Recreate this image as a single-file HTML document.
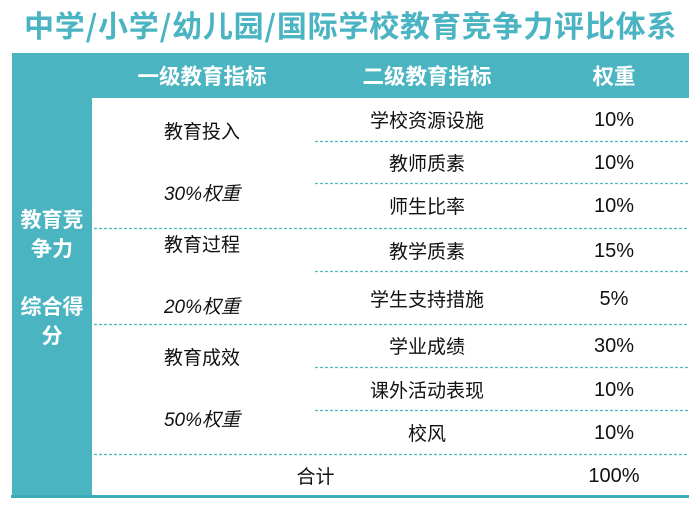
<!DOCTYPE html>
<html>
<head>
<meta charset="utf-8">
<style>
  html,body{margin:0;padding:0;}
  body{width:700px;height:510px;background:#fff;position:relative;overflow:hidden;
       font-family:"Liberation Sans","Noto Sans CJK SC",sans-serif;color:#111;}
  .abs{position:absolute;}
  .title{left:24px;top:9px;font-size:30px;line-height:30px;font-weight:bold;color:#4ab4c2;
         white-space:nowrap;letter-spacing:0.8px;font-family:"Noto Sans CJK SC","Liberation Sans",sans-serif;}
  .teal{background:#4ab4c1;}
  .cell{position:absolute;display:flex;align-items:center;justify-content:center;text-align:center;white-space:nowrap;}
  .hdr{color:#fff;font-weight:bold;font-size:21.5px;}
  .b{font-size:19px;}
  .n{font-size:20px;}
  .grp{font-size:19px;line-height:31px;}
  .grp i{font-style:italic;}
  .left{color:#fff;font-weight:bold;font-size:21px;line-height:29px;}
</style>
</head>
<body>
  <div class="abs title">中学/小学/幼儿园/国际学校教育竞争力评比体系</div>

  <div class="abs teal" style="left:12px;top:53px;width:677px;height:45px;"></div>
  <div class="abs teal" style="left:12px;top:98px;width:80px;height:398px;"></div>
  <div class="abs" style="left:11px;top:495px;width:678px;height:3px;background:#3badbb;"></div>

  <div class="cell hdr" style="left:92px;top:53px;width:220px;height:45px;">一级教育指标</div>
  <div class="cell hdr" style="left:315px;top:53px;width:224px;height:45px;">二级教育指标</div>
  <div class="cell hdr" style="left:539px;top:53px;width:150px;height:45px;">权重</div>

  <div class="cell left" style="left:12px;top:100px;width:80px;height:357px;"><div>教育竞<br>争力<br><br>综合得<br>分</div></div>

  <div class="cell grp" style="left:92px;top:98px;width:220px;height:130px;"><div>教育投入<br>&nbsp;<br><i>30%权重</i></div></div>
  <div class="cell grp" style="left:92px;top:228px;width:220px;height:96px;"><div>教育过程<br>&nbsp;<br><i>20%权重</i></div></div>
  <div class="cell grp" style="left:92px;top:324px;width:220px;height:130px;"><div>教育成效<br>&nbsp;<br><i>50%权重</i></div></div>

  <div class="cell b" style="left:315px;top:98px;width:224px;height:43px;">学校资源设施</div>
  <div class="cell n" style="left:539px;top:99px;width:150px;height:43px;">10%</div>
  <div class="cell b" style="left:315px;top:141px;width:224px;height:42px;">教师质素</div>
  <div class="cell n" style="left:539px;top:142px;width:150px;height:42px;">10%</div>
  <div class="cell b" style="left:315px;top:183px;width:224px;height:45px;">师生比率</div>
  <div class="cell n" style="left:539px;top:184px;width:150px;height:45px;">10%</div>
  <div class="cell b" style="left:315px;top:228px;width:224px;height:44px;">教学质素</div>
  <div class="cell n" style="left:539px;top:229px;width:150px;height:44px;">15%</div>
  <div class="cell b" style="left:315px;top:272px;width:224px;height:52px;">学生支持措施</div>
  <div class="cell n" style="left:539px;top:273px;width:150px;height:52px;">5%</div>
  <div class="cell b" style="left:315px;top:324px;width:224px;height:43px;">学业成绩</div>
  <div class="cell n" style="left:539px;top:325px;width:150px;height:43px;">30%</div>
  <div class="cell b" style="left:315px;top:367px;width:224px;height:44px;">课外活动表现</div>
  <div class="cell n" style="left:539px;top:368px;width:150px;height:44px;">10%</div>
  <div class="cell b" style="left:315px;top:411px;width:224px;height:43px;">校风</div>
  <div class="cell n" style="left:539px;top:412px;width:150px;height:43px;">10%</div>

  <div class="cell b" style="left:92px;top:454px;width:447px;height:42px;">合计</div>
  <div class="cell n" style="left:539px;top:455px;width:150px;height:42px;">100%</div>

  <svg class="abs" style="left:0;top:0;" width="700" height="510">
    <g stroke="#4bb8c4" stroke-width="1.3" stroke-dasharray="3,2" fill="none">
      <line x1="315" y1="141.5" x2="689" y2="141.5"/>
      <line x1="315" y1="183.5" x2="689" y2="183.5"/>
      <line x1="94" y1="228.5" x2="689" y2="228.5"/>
      <line x1="315" y1="271.5" x2="689" y2="271.5"/>
      <line x1="94" y1="324.5" x2="689" y2="324.5"/>
      <line x1="315" y1="367.5" x2="689" y2="367.5"/>
      <line x1="315" y1="410.5" x2="689" y2="410.5"/>
      <line x1="94" y1="454.5" x2="689" y2="454.5"/>
    </g>
  </svg>
</body>
</html>
